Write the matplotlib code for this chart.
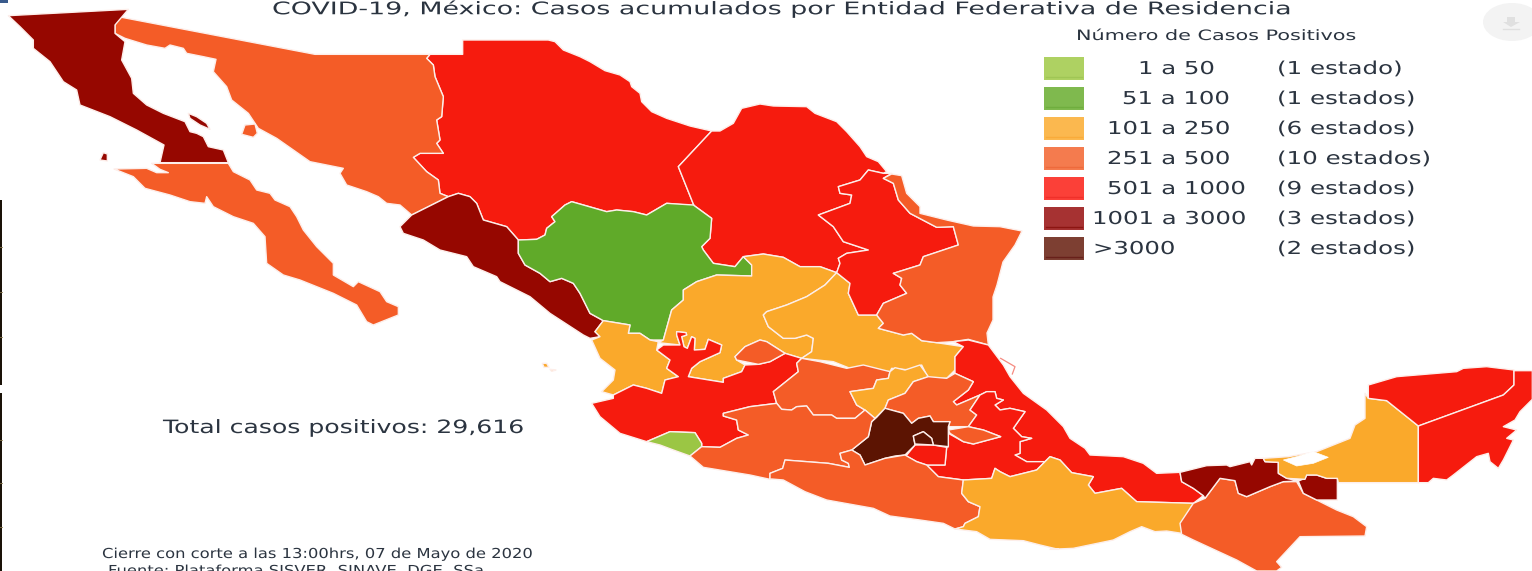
"""Choropleth of accumulated COVID-19 cases per Mexican state, outlines traced by hand."""
import matplotlib
matplotlib.use("Agg")
import matplotlib.pyplot as plt
import matplotlib.patheffects as pe
from matplotlib.patches import Polygon, Rectangle, Ellipse
from matplotlib.transforms import Affine2D


def crop(x0, y0, pts):
    return [(x0 + x / 3, y0 + y / 3) for x, y in pts]


def z1(pts): return crop(0, 0, pts)
def z2(pts): return crop(500, 150, pts)
def z3(pts): return crop(580, 330, pts)
def z5(pts): return crop(1050, 350, pts)
def z8(pts): return crop(420, 30, pts)


TITLE = "COVID-19, México: Casos acumulados por Entidad Federativa de Residencia"
LEGEND_TITLE = "Número de Casos Positivos"
RANGES = ["1 a 50", "51 a 100", "101 a 250", "251 a 500", "501 a 1000", "1001 a 3000", ">3000"]
COUNTS = ["(1 estado)", "(1 estados)", "(6 estados)", "(10 estados)", "(9 estados)", "(3 estados)", "(2 estados)"]
RANGE_X = [1138, 1122, 1107, 1107, 1107, 1092, 1093]
SWATCH = ["#aed162", "#7fb94e", "#fbb84f", "#f47b4e", "#fb4038", "#a63232", "#7d3f32"]
SWATCH_LINE = ["#9fc655", "#6fae3e", "#f9ab3a", "#ee6a3c", "#f0302a", "#8c1512", "#68201a"]
TOTAL = "Total casos positivos: 29,616"
CIERRE = "Cierre con corte a las 13:00hrs, 07 de Mayo de 2020"
FUENTE = "Fuente: Plataforma SISVER, SINAVE, DGE, SSa"

# class of each state on the map, same order as the legend
FILL = {"c1": "#9bc644", "c2": "#60aa29", "c3": "#faa92b", "c4": "#f45c27",
        "c5": "#f61b0e", "c6": "#960700", "c7": "#5c1402"}

BAJA_NORTE = z1([(25, 47), (385, 28), (345, 75), (345, 100), (375, 125), (365, 180), (395, 235), (400, 280),
                 (440, 315), (490, 340), (555, 365), (570, 395), (590, 400), (610, 410), (625, 440), (670, 450),
                 (685, 488), (480, 488), (492, 435), (410, 390), (330, 350), (240, 315), (230, 270), (190, 245),
                 (150, 185), (100, 145), (100, 120), (60, 80)])
ISLA_ANGEL = z1([(565, 340), (590, 350), (620, 370), (630, 388), (600, 375), (570, 355)])
ISLA_GUADALUPE = z1([(310, 458), (322, 462), (322, 483), (300, 480)])
BAJA_SUR = z1([(342, 507), (440, 505), (470, 518), (505, 518), (480, 508), (455, 490), (685, 490), (700, 515),
               (750, 540), (770, 570), (810, 580), (825, 600), (870, 620), (890, 650), (910, 690), (950, 740),
               (1000, 790), (1000, 825), (1060, 860), (1075, 845), (1140, 875), (1160, 905), (1195, 920),
               (1195, 945), (1120, 975), (1100, 965), (1070, 915), (1000, 880), (900, 840), (850, 825),
               (800, 790), (795, 710), (760, 670), (700, 650), (640, 620), (620, 590), (615, 610), (570, 605),
               (510, 585), (435, 565), (400, 530)])
SONORA = z1([(355, 50), (945, 163), (1290, 163), (1280, 175), (1300, 195), (1305, 230), (1330, 290), (1325, 350),
             (1310, 360), (1320, 420), (1310, 430), (1330, 460), (1260, 460), (1240, 472), (1280, 515), (1315, 540),
             (1320, 580), (1345, 590), (1235, 645), (1200, 615), (1160, 610), (1135, 590), (1100, 575), (1040, 555),
             (1020, 520), (1030, 505), (980, 495), (930, 485), (880, 450), (830, 415), (775, 385), (745, 340),
             (695, 300), (680, 260), (640, 215), (648, 178), (610, 170), (560, 160), (550, 145), (510, 135),
             (495, 145), (440, 135), (375, 115), (345, 100), (345, 75)])
ISLA_TIBURON = z1([(735, 375), (765, 372), (772, 400), (760, 412), (725, 403)])
CHIHUAHUA = (z8([(128, 73), (128, 30), (385, 30), (405, 35), (430, 60), (480, 80), (510, 95), (555, 122), (600, 135),
                 (630, 155), (635, 170), (660, 190), (665, 215), (695, 245), (740, 265), (810, 288), (875, 303),
                 (775, 410), (822, 527)])
             + z2([(500, 160), (440, 195), (400, 185), (350, 180), (320, 185), (215, 155), (195, 165), (155, 200),
                   (165, 215), (140, 235), (135, 255), (110, 268), (55, 270)])
             + z1([(1520, 680), (1450, 660), (1430, 610), (1410, 590), (1375, 580), (1345, 590), (1320, 580),
                   (1315, 540), (1280, 515), (1240, 472), (1260, 460), (1330, 460), (1310, 430), (1320, 420),
                   (1310, 360), (1325, 350), (1330, 290), (1305, 230), (1300, 195), (1280, 175), (1290, 163)]))
COAHUILA = (z8([(875, 303), (900, 303), (940, 280), (965, 235), (1020, 222), (1060, 228), (1160, 230), (1185, 250),
                (1250, 275), (1280, 305), (1320, 350), (1340, 380), (1375, 395), (1400, 425)])
            + z2([(1150, 70), (1105, 60), (1080, 90), (1015, 110), (1020, 130), (1055, 135), (1050, 160), (955, 195),
                  (1000, 230), (1030, 275), (1105, 300), (1040, 310), (1015, 325), (1020, 340), (1010, 368),
                  (960, 350), (900, 350), (850, 322), (790, 312), (730, 320), (705, 350), (640, 340), (610, 300),
                  (605, 290), (630, 265), (635, 205), (580, 165)])
            + z8([(822, 527), (775, 410)]))
DURANGO = z2([(55, 270), (110, 268), (135, 255), (140, 235), (165, 215), (155, 200), (195, 165), (215, 155), (320, 185),
              (350, 180), (400, 185), (440, 195), (500, 160), (580, 165), (635, 205), (630, 265), (605, 290), (610, 300),
              (640, 340), (705, 350), (730, 320), (755, 345), (755, 378), (650, 375), (590, 395), (550, 420), (550, 450),
              (515, 480), (490, 570), (450, 570), (420, 550), (385, 550), (390, 525), (310, 512), (270, 490), (240, 430),
              (220, 400), (185, 385), (150, 395), (120, 370), (75, 345), (55, 310)])
SINALOA = (z1([(1345, 590), (1375, 580), (1410, 590), (1430, 610), (1450, 660), (1520, 680)])
           + z2([(55, 270), (55, 310), (75, 345), (120, 370), (150, 395), (185, 385), (220, 400), (240, 430), (270, 490),
                 (310, 512), (285, 545), (300, 560), (270, 565), (250, 555), (150, 490), (90, 440), (0, 395)])
           + z1([(1490, 830), (1420, 800), (1400, 770), (1320, 750), (1270, 720), (1210, 700), (1200, 680), (1235, 645)]))
NAYARIT = z2([(310, 512), (390, 525), (385, 550), (420, 550), (450, 570), (475, 575), (470, 600), (510, 630), (500, 655),
              (535, 680), (495, 690), (485, 730), (440, 715), (400, 705), (340, 735), (305, 725), (340, 690), (345, 660),
              (300, 625), (275, 570), (300, 560), (285, 545)])
ISLAS_MARIAS = z2([(127, 640), (140, 640), (147, 652), (132, 652)])
ISLAS_MARIAS_2 = z2([(150, 658), (168, 660), (155, 664)])
ZACATECAS = z2([(755, 378), (755, 345), (730, 320), (790, 312), (850, 322), (900, 350), (960, 350), (1010, 368), (975, 405),
                (920, 440), (860, 465), (800, 485), (790, 495), (805, 530), (850, 565), (885, 565), (920, 555), (940, 565),
                (935, 605), (905, 625), (855, 610), (800, 575), (780, 570), (735, 590), (705, 620), (710, 630), (735, 645),
                (725, 665), (670, 685), (670, 697), (565, 680), (575, 655), (600, 635), (660, 608), (665, 585), (625, 568),
                (615, 598), (583, 600), (585, 565), (575, 560), (562, 595), (552, 590), (545, 560), (560, 555), (558, 548),
                (530, 545), (530, 555), (540, 585), (475, 578), (490, 570), (515, 480), (550, 450), (550, 420), (590, 395), (650, 375)])
AGUASCALIENTES = z2([(855, 610), (800, 575), (780, 570), (735, 590), (705, 620), (710, 630), (735, 635), (775, 643), (810, 635)])
JALISCO = (z2([(340, 735), (400, 705), (440, 715), (485, 730), (495, 690), (535, 680), (500, 655), (510, 630), (470, 600),
               (490, 585), (540, 585), (530, 555), (530, 545), (558, 548), (560, 555), (545, 560), (552, 590), (562, 595),
               (575, 560), (585, 565), (583, 600), (615, 598), (625, 568), (665, 585), (660, 608), (600, 635), (575, 655), (565, 680),
               (670, 697), (670, 685), (725, 665), (735, 645), (775, 643), (810, 635), (855, 610), (905, 625)])
           + z3([(650, 100), (655, 125), (630, 145), (580, 185), (590, 220), (510, 230), (430, 250), (430, 258), (470, 270),
                 (475, 300), (505, 315), (470, 325), (420, 352), (365, 350), (365, 340), (345, 308), (270, 305), (200, 335),
                 (120, 310), (60, 260), (35, 220), (100, 205), (100, 195)]))
COLIMA = z3([(200, 335), (270, 305), (345, 308), (365, 340), (365, 350), (330, 378), (280, 360), (240, 345)])
GUANAJUATO = z3([(665, 85), (720, 95), (800, 115), (850, 105), (930, 125), (925, 145), (890, 150), (880, 175), (810, 185),
                 (830, 225), (855, 240), (825, 265), (770, 265), (755, 255), (700, 255), (680, 228), (650, 230), (635, 240),
                 (605, 238), (590, 220), (580, 185), (630, 145), (655, 125), (650, 100)])
QUERETARO = z3([(930, 125), (945, 113), (975, 120), (1020, 105), (1045, 140), (1000, 155), (975, 190), (925, 210), (915, 235),
                (885, 265), (855, 240), (830, 225), (810, 185), (880, 175), (890, 150), (925, 145)])
SAN_LUIS = z2([(1010, 368), (1050, 400), (1045, 430), (1075, 495), (1130, 495), (1150, 520), (1135, 535), (1210, 555),
               (1235, 550), (1265, 572), (1310, 578), (1390, 590), (1365, 620), (1365, 660), (1340, 685), (1285, 685),
               (1265, 645), (1230, 660), (1175, 655), (1170, 665), (1050, 655), (1000, 635), (905, 625), (935, 605),
               (940, 565), (920, 555), (885, 565), (850, 565), (805, 530), (790, 495), (800, 485), (860, 465), (920, 440),
               (975, 405)])
NUEVO_LEON = z2([(1150, 70), (1105, 60), (1080, 90), (1015, 110), (1020, 130), (1055, 135), (1050, 160), (955, 195), (1000, 230),
                 (1030, 275), (1105, 300), (1040, 310), (1015, 325), (1020, 340), (1010, 368), (1050, 400), (1045, 430),
                 (1075, 495), (1130, 495), (1150, 460), (1220, 430), (1200, 405), (1205, 385), (1180, 370), (1260, 345),
                 (1270, 320), (1375, 285), (1360, 230), (1310, 232), (1230, 190), (1195, 150), (1180, 100), (1150, 85),
                 (1175, 70)])
TAMAULIPAS = (z8([(1415, 432), (1445, 437), (1460, 490), (1500, 530)])
              + z2([(1260, 190), (1340, 210), (1420, 228), (1500, 230)])
              + [(1022, 231), (1015, 245), (1003, 262), (997, 285), (993, 297), (993, 320), (987, 333)]
              + z2([(1465, 585), (1405, 568), (1360, 575), (1310, 578), (1265, 572), (1235, 550), (1210, 555), (1135, 535),
                    (1150, 520), (1130, 495), (1150, 460), (1220, 430), (1200, 405), (1205, 385), (1180, 370), (1260, 345),
                    (1270, 320), (1375, 285), (1360, 230), (1310, 232), (1230, 190), (1195, 150), (1180, 100), (1150, 85)]))
VERACRUZ = (z3([(1120, 35), (1165, 30), (1225, 45), (1240, 65), (1270, 105), (1290, 140), (1330, 190), (1400, 240), (1450, 290),
                (1470, 325), (1500, 345)])
            + z5([(105, 295), (120, 315), (220, 320), (280, 340), (320, 370), (390, 367), (395, 395), (430, 415), (460, 437),
                  (430, 460), (260, 455), (215, 415), (135, 430), (115, 405), (130, 380), (65, 368), (30, 330), (0, 320)])
            + z3([(1395, 395), (1340, 395), (1305, 375), (1320, 370), (1320, 335), (1355, 325), (1325, 320), (1300, 295), (1335, 245),
                  (1290, 235), (1260, 240), (1245, 225), (1270, 210), (1250, 205), (1245, 185), (1220, 185), (1200, 195), (1130, 225),
                  (1120, 215), (1165, 180), (1180, 155), (1125, 130), (1125, 80), (1150, 50)]))
HIDALGO = z3([(925, 210), (975, 190), (1000, 155), (1045, 140), (1100, 145), (1125, 130), (1180, 155), (1165, 180), (1120, 215),
              (1130, 225), (1200, 195), (1170, 240), (1190, 255), (1165, 290), (1105, 290), (1110, 275), (1060, 275), (1050, 258),
              (1015, 265), (995, 280), (970, 250), (915, 235)])
EDOMEX = z3([(915, 235), (970, 250), (995, 280), (1015, 265), (1050, 258), (1060, 275), (1110, 275), (1105, 290), (1105, 350),
             (1060, 345), (1055, 325), (1030, 305), (1000, 318), (1005, 345), (975, 375), (945, 378), (915, 385), (855, 405),
             (840, 375), (815, 360), (865, 320), (875, 275), (890, 262)])
CDMX = z3([(1000, 318), (1030, 305), (1055, 325), (1060, 345), (1005, 342)])
MORELOS = z3([(1005, 345), (1060, 345), (1100, 352), (1095, 405), (1040, 405), (1010, 395), (978, 378)])
TLAXCALA = z3([(1105, 300), (1165, 290), (1210, 300), (1262, 320), (1180, 342), (1150, 335), (1110, 310)])
PUEBLA = z3([(1105, 310), (1150, 335), (1180, 342), (1262, 320), (1210, 300), (1165, 290), (1190, 255), (1170, 240), (1200, 195),
             (1220, 185), (1245, 185), (1250, 205), (1270, 210), (1245, 225), (1260, 240), (1290, 235), (1335, 245), (1300, 295),
             (1325, 320), (1355, 325), (1320, 335), (1320, 370), (1305, 375), (1340, 395), (1395, 395), (1370, 420), (1290, 440),
             (1260, 425), (1245, 415), (1235, 445), (1150, 450), (1075, 440), (1040, 405), (1095, 405), (1100, 352), (1105, 350)])
MICHOACAN = z3([(430, 250), (510, 230), (590, 220), (605, 238), (635, 240), (650, 230), (680, 228), (700, 255), (755, 255), (770, 265),
                (825, 265), (855, 240), (885, 265), (875, 275), (865, 320), (815, 360), (780, 370), (785, 390), (805, 400), (808, 412),
                (745, 400), (680, 395), (615, 390), (608, 415), (570, 430), (570, 448), (510, 435), (370, 412), (330, 378), (365, 350),
                (420, 352), (470, 325), (505, 315), (475, 300), (470, 270), (430, 258)])
GUERRERO = z3([(570, 448), (570, 430), (608, 415), (615, 390), (680, 395), (745, 400), (808, 412), (805, 400), (785, 390), (780, 370),
               (815, 360), (840, 375), (855, 405), (915, 385), (975, 375), (1010, 395), (1040, 405), (1075, 440), (1150, 450), (1145, 490),
               (1165, 515), (1200, 530), (1195, 560), (1155, 580), (1150, 590), (1125, 597), (1090, 580), (1020, 570), (930, 558), (880, 535),
               (740, 510), (675, 485), (610, 450), (575, 447)])
OAXACA = (z3([(1125, 597), (1150, 590), (1155, 580), (1195, 560), (1200, 530), (1165, 515), (1145, 490), (1150, 450), (1235, 445),
              (1245, 415), (1260, 425), (1290, 440), (1370, 420), (1395, 395)])
          + z5([(0, 320), (30, 330), (65, 368), (130, 380), (115, 405), (135, 430), (215, 415), (260, 455), (430, 460), (395, 520),
                (395, 550), (350, 543), (315, 545), (275, 530), (240, 545), (190, 570), (70, 595), (0, 598)])
          + z3([(1435, 658), (1380, 645), (1330, 632), (1230, 628), (1190, 605)]))
CHIAPAS = z5([(430, 460), (465, 445), (510, 385), (555, 392), (565, 430), (590, 440), (660, 410), (700, 395), (740, 395), (760, 430),
              (800, 450), (860, 480), (910, 500), (950, 530), (945, 558), (750, 560), (680, 635), (695, 652), (680, 663), (620, 663),
              (560, 630), (430, 570), (395, 553), (390, 520)])
TABASCO = z5([(390, 367), (470, 347), (530, 345), (540, 350), (600, 335), (605, 345), (615, 325), (640, 325), (645, 335), (685, 337),
              (685, 370), (710, 385), (745, 393), (700, 395), (660, 410), (590, 440), (565, 430), (555, 392), (510, 385), (465, 445),
              (460, 437), (430, 415), (395, 395)])
TABASCO_ESTE = z5([(745, 393), (765, 385), (770, 375), (800, 375), (830, 385), (862, 385), (862, 450), (800, 450), (760, 430)])
CAMPECHE = z5([(640, 325), (715, 320), (800, 305), (900, 265), (915, 225), (945, 205), (945, 130), (955, 145), (1010, 152), (1105, 228),
               (1105, 398), (865, 398), (862, 385), (830, 385), (800, 375), (770, 375), (765, 388), (710, 385), (685, 370), (685, 337), (645, 335)])
LAGUNA_TERMINOS = z5([(700, 330), (740, 320), (790, 305), (835, 322), (790, 340), (740, 348)])
YUCATAN = z5([(955, 145), (955, 105), (1040, 80), (1220, 65), (1240, 55), (1310, 50), (1392, 60), (1392, 105), (1360, 135), (1105, 228), (1010, 152)])
QUINTANA_ROO = z5([(1392, 62), (1447, 62), (1447, 148), (1410, 185), (1395, 210), (1360, 230), (1400, 240), (1370, 265), (1390, 270),
                   (1360, 330), (1345, 355), (1320, 335), (1315, 310), (1280, 320), (1210, 375), (1190, 390), (1150, 385), (1135, 398),
                   (1105, 398), (1105, 228), (1360, 135), (1392, 105)])
LAGUNA_VERACRUZ = z3([(1262, 85), (1305, 110), (1297, 132)])

STATES = [
    (CHIHUAHUA, "c5"), (COAHUILA, "c5"), (SONORA, "c4"), (BAJA_NORTE, "c6"), (ISLA_ANGEL, "c6"), (ISLA_GUADALUPE, "c6"),
    (BAJA_SUR, "c4"), (ISLA_TIBURON, "c4"), (SINALOA, "c6"), (DURANGO, "c2"), (NAYARIT, "c3"), (ISLAS_MARIAS, "c3"),
    (ISLAS_MARIAS_2, "c3"), (ZACATECAS, "c3"), (JALISCO, "c5"), (AGUASCALIENTES, "c4"), (COLIMA, "c1"), (SAN_LUIS, "c3"),
    (NUEVO_LEON, "c5"), (TAMAULIPAS, "c4"), (VERACRUZ, "c5"), (GUANAJUATO, "c4"), (QUERETARO, "c3"), (HIDALGO, "c4"),
    (PUEBLA, "c5"), (TLAXCALA, "c4"), (MORELOS, "c5"), (EDOMEX, "c7"), (CDMX, "c7"), (MICHOACAN, "c4"), (GUERRERO, "c4"),
    (OAXACA, "c3"), (CHIAPAS, "c4"), (TABASCO, "c6"), (TABASCO_ESTE, "c6"), (CAMPECHE, "c3"), (YUCATAN, "c5"), (QUINTANA_ROO, "c5"),
]

# screenshot leftovers on the left edge
EDGE_BARS = [(200, 385), (393, 571)]
EDGE_TICKS = [247, 292, 337, 440, 483, 527]


class Widen(pe.AbstractPathEffect):
    """Screenshot was stretched sideways, so stretch the glyphs about the text origin."""

    def __init__(self, sx):
        super().__init__()
        self.sx = sx

    def draw_path(self, renderer, gc, tpath, affine, rgbFace=None):
        x0, y0 = affine.transform((0, 0))
        stretched = affine + Affine2D().translate(-x0, -y0).scale(self.sx, 1).translate(x0, y0)
        renderer.draw_path(gc, tpath, stretched, rgbFace)


fig = plt.figure(figsize=(15.32, 5.71), dpi=100)
ax = fig.add_axes([0, 0, 1, 1])
ax.set_xlim(0, 1532); ax.set_ylim(571, 0); ax.axis("off")

for pts, cls in STATES:
    ax.add_patch(Polygon(pts, closed=True, fc=FILL[cls], ec="#fdeeea", lw=1.0, joinstyle="round"))
ax.add_patch(Polygon(LAGUNA_TERMINOS, closed=True, fc="white", ec="white", lw=0.5))
ax.plot(*zip(*LAGUNA_VERACRUZ), color="#f58a80", lw=0.9)

ink = "#2b3440"


def label(x, y, s, size, sx):
    ax.text(x, y, s, fontsize=size, color=ink, va="center", ha="left", path_effects=[Widen(sx)])


# legend
label(1076, 36, LEGEND_TITLE, 10.3, 1.45)
for i, (rng, cnt, c, cl, rx) in enumerate(zip(RANGES, COUNTS, SWATCH, SWATCH_LINE, RANGE_X)):
    y = 57 + 30 * i
    ax.add_patch(Rectangle((1044, y), 40, 23, fc=c, ec="none"))
    ax.plot([1046, 1082], [y + 20, y + 20], color=cl, lw=1)
    label(rx, y + 12, rng, 12.8, 1.37)
    label(1277, y + 12, cnt, 12.8, 1.38)

label(272, 9, TITLE, 12.5, 1.547)
label(163, 428, TOTAL, 13.2, 1.37)
label(102, 554, CIERRE, 9.9, 1.19)
label(108, 571, FUENTE, 9.9, 1.19)

# download button, top right corner
ax.add_patch(Ellipse((1512, 22), 58, 38, fc="#f3f3f3", ec="none"))
ax.add_patch(Polygon([(1507, 17), (1515, 17), (1515, 22), (1520, 22), (1511, 27), (1503, 22), (1507, 22)],
                     closed=True, fc="#e0e0e0", ec="none"))
ax.plot([1503, 1519], [29, 29], color="#e0e0e0", lw=1)

ax.add_patch(Rectangle((0, 0), 8, 2.5, fc="#3a5b8c", ec="none"))
for y0, y1 in EDGE_BARS:
    ax.add_patch(Rectangle((0, y0), 2.2, y1 - y0, fc="#1a1208", ec="none"))
for y in EDGE_TICKS:
    ax.plot([0, 2.2], [y, y], color="#8a7a50", lw=0.6)

fig.savefig("out.png", dpi=100)
